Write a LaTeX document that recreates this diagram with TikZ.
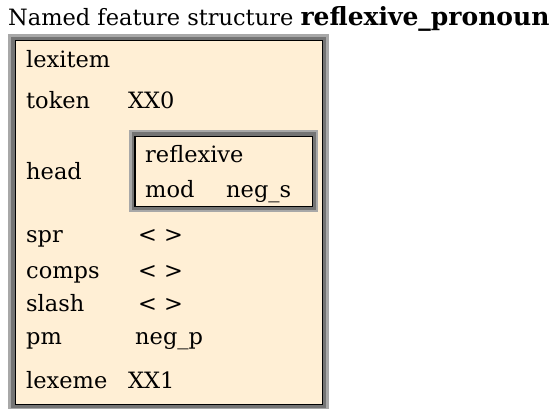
\documentclass[tikz,border=0pt]{standalone}
\usepackage{fontspec}
\setmainfont{DejaVu Serif}
\definecolor{fsfill}{HTML}{FFEFD5}
\definecolor{bevA}{HTML}{A8A8A8}
\definecolor{bevB}{HTML}{747474}
\begin{document}
\begin{tikzpicture}[x=1pt,y=-1pt,
  txt/.style={anchor=base west,inner sep=0pt,font=\fontsize{22.5}{26}\selectfont},
  ttl/.style={anchor=base west,inner sep=0pt,font=\fontsize{22.5}{26}\selectfont}]
\useasboundingbox (0,0) rectangle (552,409);
\fill[white] (0,0) rectangle (552,409);
% title
\node[ttl] (title) at (8,26) {Named feature structure {\fontsize{25}{28}\selectfont\bfseries reflexive\_pronoun}};
% outer frame
\fill[bevA] (8,34) rectangle (329,409);
\fill[bevB] (11,37) rectangle (326,408);
\filldraw[fill=fsfill,draw=black,line width=1.6pt] (15.5,40.5) rectangle (322.5,404.5);
% nested frame
\fill[bevA] (129,130) rectangle (318,212);
\fill[bevB] (131.5,132.5) rectangle (315.5,210);
\filldraw[fill=fsfill,draw=black,line width=1.6pt] (135,136.5) rectangle (312.5,206.5);
% rows
\node[txt] (l1) at (26,68) {lexitem};
\node[txt] (l2) at (26,109) {token};
\node[txt] (v2) at (128,109) {XX0};
\node[txt] (l3) at (26,179) {head};
\node[txt] (h1) at (145,163) {reflexive};
\node[txt] (h2) at (145,198) {mod};
\node[txt] (h3) at (226,198) {neg\_s};
\node[txt] (l4) at (26,243) {spr};
\node[txt] (v4) at (138,243) {< >};
\node[txt] (l5) at (26,278) {comps};
\node[txt] (v5) at (138,278) {< >};
\node[txt] (l6) at (26,311) {slash};
\node[txt] (v6) at (138,311) {< >};
\node[txt] (l7) at (26,344) {pm};
\node[txt] (v7) at (135,344) {neg\_p};
\node[txt] (l8) at (26,388) {lexeme};
\node[txt] (v8) at (128,388) {XX1};
\end{tikzpicture}
\end{document}
